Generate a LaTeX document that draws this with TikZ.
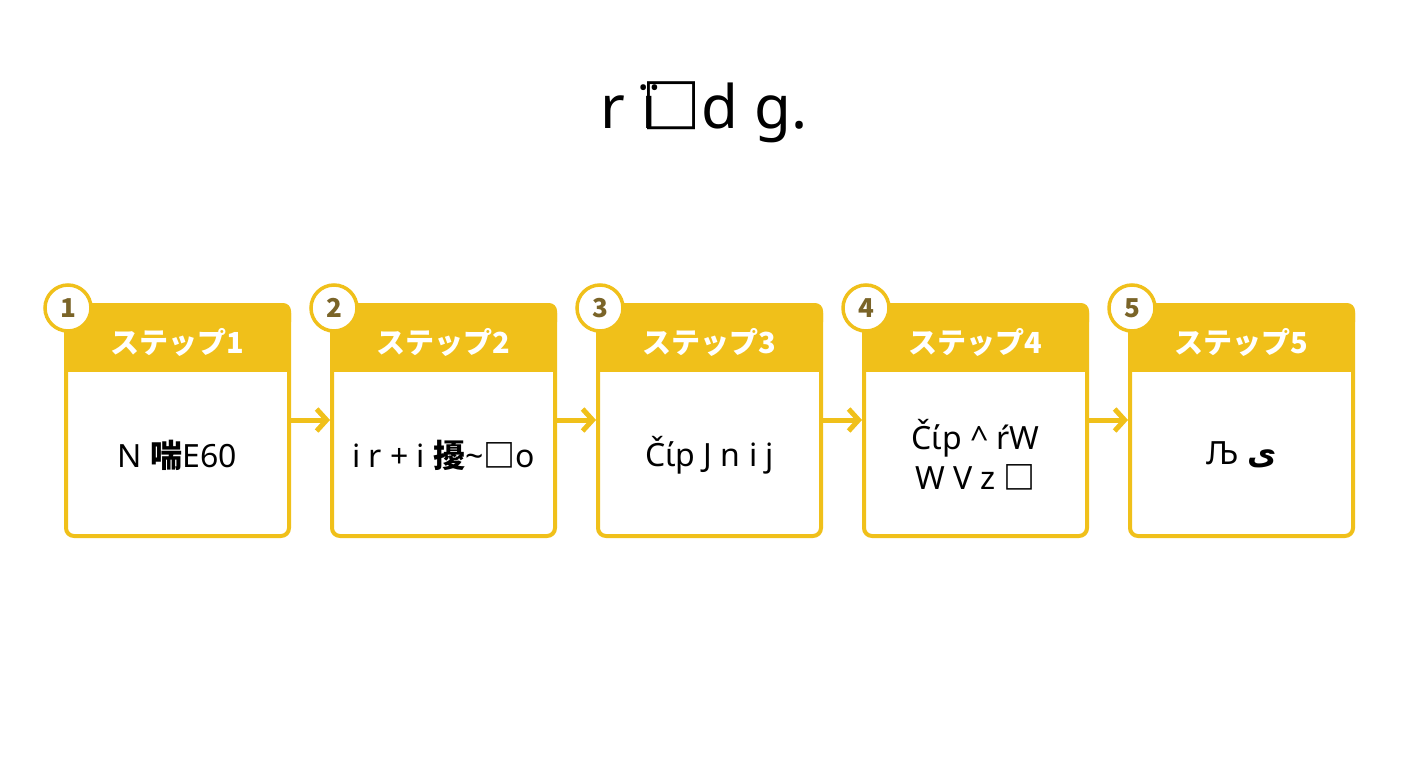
\documentclass[tikz,border=0pt]{standalone}
\usepackage{fontspec}
\setmainfont{Noto Sans}
\newfontfamily\cjk{Noto Sans CJK JP}
\newfontfamily\djvfont{DejaVu Sans}
\usetikzlibrary{arrows.meta}
\definecolor{yel}{HTML}{F0C01A}
\definecolor{brn}{HTML}{7A6428}
\begin{document}
\begin{tikzpicture}[x=1pt,y=-1pt,
 box/.style={draw=yel,line width=4pt,rounded corners=8pt,fill=white},
 hd/.style={text=white,font=\cjk\bfseries\fontsize{29}{29}\selectfont},
 bd/.style={font=\bfseries\fontsize{32}{40}\selectfont,align=center},
 num/.style={circle,draw=yel,line width=3.5pt,fill=white,minimum size=46pt,inner sep=0pt,text=brn,font=\cjk\bfseries\fontsize{26}{26}\selectfont},
 arr/.style={draw=yel,line width=5pt,-{Straight Barb[length=10pt,width=22pt]}}]
\useasboundingbox (0,0) rectangle (1408,768);
\node[font=\bfseries\fontsize{60}{60}\selectfont] (t) at (704,112) {r ï\hspace{-0.25em}{\cjk □}d g.};
\foreach \i/\x in {1/66,2/332,3/598,4/864,5/1130}{
 \draw[box] (\x,305) rectangle (\x+223,536);
 \fill[yel,rounded corners=8pt] (\x-2,303) rectangle (\x+225,330);
 \fill[yel] (\x-2,320) rectangle (\x+225,372);
 \node[hd] (h\i) at (\x+111.5,342) {ステップ\i};
 \node[num] (n\i) at (\x+2,308) {\i};
 \coordinate (b\i) at (\x+111.5,455);
 \coordinate (l\i) at (\x-2,420);
 \coordinate (r\i) at (\x+225,420);
}
\node[bd] (c1) at (b1) {N {\cjk 喘}E60};
\node[bd] (c2) at (b2) {i r + i {\cjk 擾}\~{}{\cjk □}o};
\node[bd] (c3) at (b3) {Čίp J n i j};
\node[bd] (c4) at (b4) {Čίp \^{} ŕW\\W V z {\cjk □}};
\node[bd] (c5) at (b5) {Љ {\djvfont ی}};
\foreach \a/\b in {1/2,2/3,3/4,4/5}{\draw[arr] (r\a) -- (l\b);}
\end{tikzpicture}
\end{document}
